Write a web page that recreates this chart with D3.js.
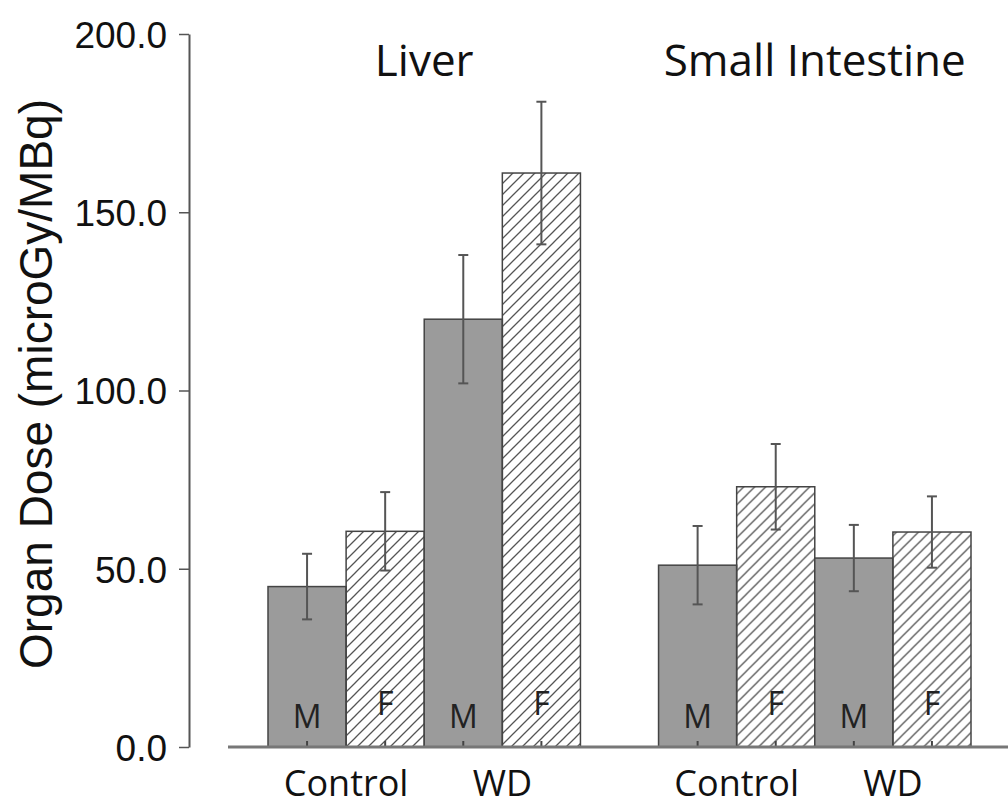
<!DOCTYPE html>
<html>
<head>
<meta charset="utf-8">
<script src="https://cdn.jsdelivr.net/npm/d3@7"></script>
<style>
  body { margin: 0; background: #fff; }
  .tick text { font-family: "Liberation Sans", Arial, sans-serif; }
</style>
</head>
<body>
<div id="chart-area"></div>
<script>
// Chart data
let organs = ["Liver", "Small Intestine"];
let diets = ["Control", "WD"];
let sexes = ["M", "F"];
let liverMeans = [45, 60.5, 120, 161];
let liverErrors = [9.2, 11, 18, 20];
let intestineMeans = [51, 73, 53, 60.3];
let intestineErrors = [11, 12, 9.3, 10];
let yTicks = [0, 50, 100, 150, 200];

// SVG size
let width = 1008,
	height = 806;

let margin = {top: 34, right: 37, bottom: 59, left: 268};

// flatten into bar records
let bars = [];
organs.forEach((o, oi) => {
	let means = oi === 0 ? liverMeans : intestineMeans;
	let errs = oi === 0 ? liverErrors : intestineErrors;
	diets.forEach((d, di) => {
		sexes.forEach((s, si) => {
			let k = di * 2 + si;
			bars.push({organ: o, diet: d, sex: s, key: d + "-" + s, value: means[k], err: errs[k]});
		});
	});
});

let svg = d3.select("#chart-area")
	.append("svg")
	.attr("width", width)
	.attr("height", height);

// hatch pattern for the female bars
let defs = svg.append("defs");
defs.append("pattern")
	.attr("id", "hatch")
	.attr("patternUnits", "userSpaceOnUse")
	.attr("width", 11)
	.attr("height", 11)
	.append("path")
	.attr("d", "M-3,3 l6,-6 M0,11 l11,-11 M8,14 l6,-6")
	.attr("stroke", "#555")
	.attr("stroke-width", 1.3);

// Scales
let yScale = d3.scaleLinear()
	.domain([0, 200])
	.range([height - margin.bottom, margin.top]);

let organScale = d3.scaleBand()
	.domain(organs)
	.range([margin.left, width - margin.right])
	.paddingInner(0.2)
	.paddingOuter(0);

let barScale = d3.scaleBand()
	.domain(bars.slice(0, 4).map(b => b.key))
	.range([0, organScale.bandwidth()])
	.padding(0);

let dietScale = d3.scaleBand()
	.domain(diets)
	.range([0, organScale.bandwidth()]);

// Y axis
let yAxis = d3.axisLeft(yScale)
	.tickValues(yTicks)
	.tickFormat(d3.format(".1f"))
	.tickSize(10)
	.tickSizeOuter(0)
	.tickPadding(12);

let yGroup = svg.append("g")
	.attr("class", "axis y-axis")
	.attr("transform", "translate(189,0)")
	.call(yAxis);

yGroup.select(".domain").attr("stroke", "#555").attr("stroke-width", 2);
yGroup.selectAll(".tick line").attr("stroke", "#555").attr("stroke-width", 1.5);
yGroup.selectAll(".tick text")
	.attr("font-size", 37)
	.attr("fill", "#111")
	.attr("dy", "0.36em");

// Y label
svg.append("text")
	.attr("transform", "translate(52,384) rotate(-90)")
	.attr("text-anchor", "middle")
	.attr("font-family", "Liberation Sans, Arial, sans-serif")
	.attr("font-size", 46)
	.attr("fill", "#111")
	.text("Organ Dose (microGy/MBq)");

// Bars
let organGroups = svg.selectAll(".organ")
	.data(organs)
	.enter()
	.append("g")
	.attr("class", "organ")
	.attr("transform", d => "translate(" + organScale(d) + ",0)");

organGroups.selectAll("rect")
	.data(o => bars.filter(b => b.organ === o))
	.enter()
	.append("rect")
	.attr("x", d => barScale(d.key))
	.attr("y", d => yScale(d.value))
	.attr("width", barScale.bandwidth())
	.attr("height", d => yScale(0) - yScale(d.value))
	.attr("fill", d => d.sex === "M" ? "#9b9b9b" : "url(#hatch)")
	.attr("stroke", "#444")
	.attr("stroke-width", 1.5);

// small ticks at bar centres
organGroups.selectAll(".btick")
	.data(o => bars.filter(b => b.organ === o))
	.enter()
	.append("line")
	.attr("class", "btick")
	.attr("x1", d => barScale(d.key) + barScale.bandwidth() / 2)
	.attr("x2", d => barScale(d.key) + barScale.bandwidth() / 2)
	.attr("y1", yScale(0))
	.attr("y2", yScale(0) - 6)
	.attr("stroke", "#444")
	.attr("stroke-width", 2);

// Error bars
let errGroups = organGroups.selectAll(".err")
	.data(o => bars.filter(b => b.organ === o))
	.enter()
	.append("g")
	.attr("class", "err")
	.attr("stroke", "#555")
	.attr("stroke-width", 2);

errGroups.append("line")
	.attr("x1", d => barScale(d.key) + barScale.bandwidth() / 2)
	.attr("x2", d => barScale(d.key) + barScale.bandwidth() / 2)
	.attr("y1", d => yScale(d.value + d.err))
	.attr("y2", d => yScale(d.value - d.err));

errGroups.selectAll(".cap")
	.data(d => [d.value + d.err, d.value - d.err].map(v => ({v: v, key: d.key})))
	.enter()
	.append("line")
	.attr("class", "cap")
	.attr("x1", d => barScale(d.key) + barScale.bandwidth() / 2 - 5)
	.attr("x2", d => barScale(d.key) + barScale.bandwidth() / 2 + 5)
	.attr("y1", d => yScale(d.v))
	.attr("y2", d => yScale(d.v));

// M / F letters inside the bars
organGroups.selectAll(".sex")
	.data(o => bars.filter(b => b.organ === o))
	.enter()
	.append("text")
	.attr("class", "sex")
	.attr("x", d => barScale(d.key) + barScale.bandwidth() / 2)
	.attr("y", d => yScale(0) - (d.sex === "M" ? 19 : 32))
	.attr("text-anchor", "middle")
	.attr("font-family", "Open Sans, sans-serif")
	.attr("font-size", 32)
	.attr("fill", "#222")
	.text(d => d.sex);

// Baseline
svg.append("line")
	.attr("x1", 228)
	.attr("x2", width)
	.attr("y1", yScale(0))
	.attr("y2", yScale(0))
	.attr("stroke", "#777")
	.attr("stroke-width", 3);

// Diet labels under each pair
organGroups.selectAll(".diet")
	.data(diets)
	.enter()
	.append("text")
	.attr("class", "diet")
	.attr("x", d => dietScale(d) + dietScale.bandwidth() / 2)
	.attr("y", yScale(0) + 49)
	.attr("text-anchor", "middle")
	.attr("font-family", "Open Sans, sans-serif")
	.attr("font-size", 36)
	.attr("fill", "#111")
	.text(d => d);

// Organ titles
organGroups.append("text")
	.attr("x", organScale.bandwidth() / 2)
	.attr("y", 76)
	.attr("text-anchor", "middle")
	.attr("font-family", "Open Sans, sans-serif")
	.attr("font-size", 44)
	.attr("fill", "#111")
	.text(d => d);
</script>
</body>
</html>
